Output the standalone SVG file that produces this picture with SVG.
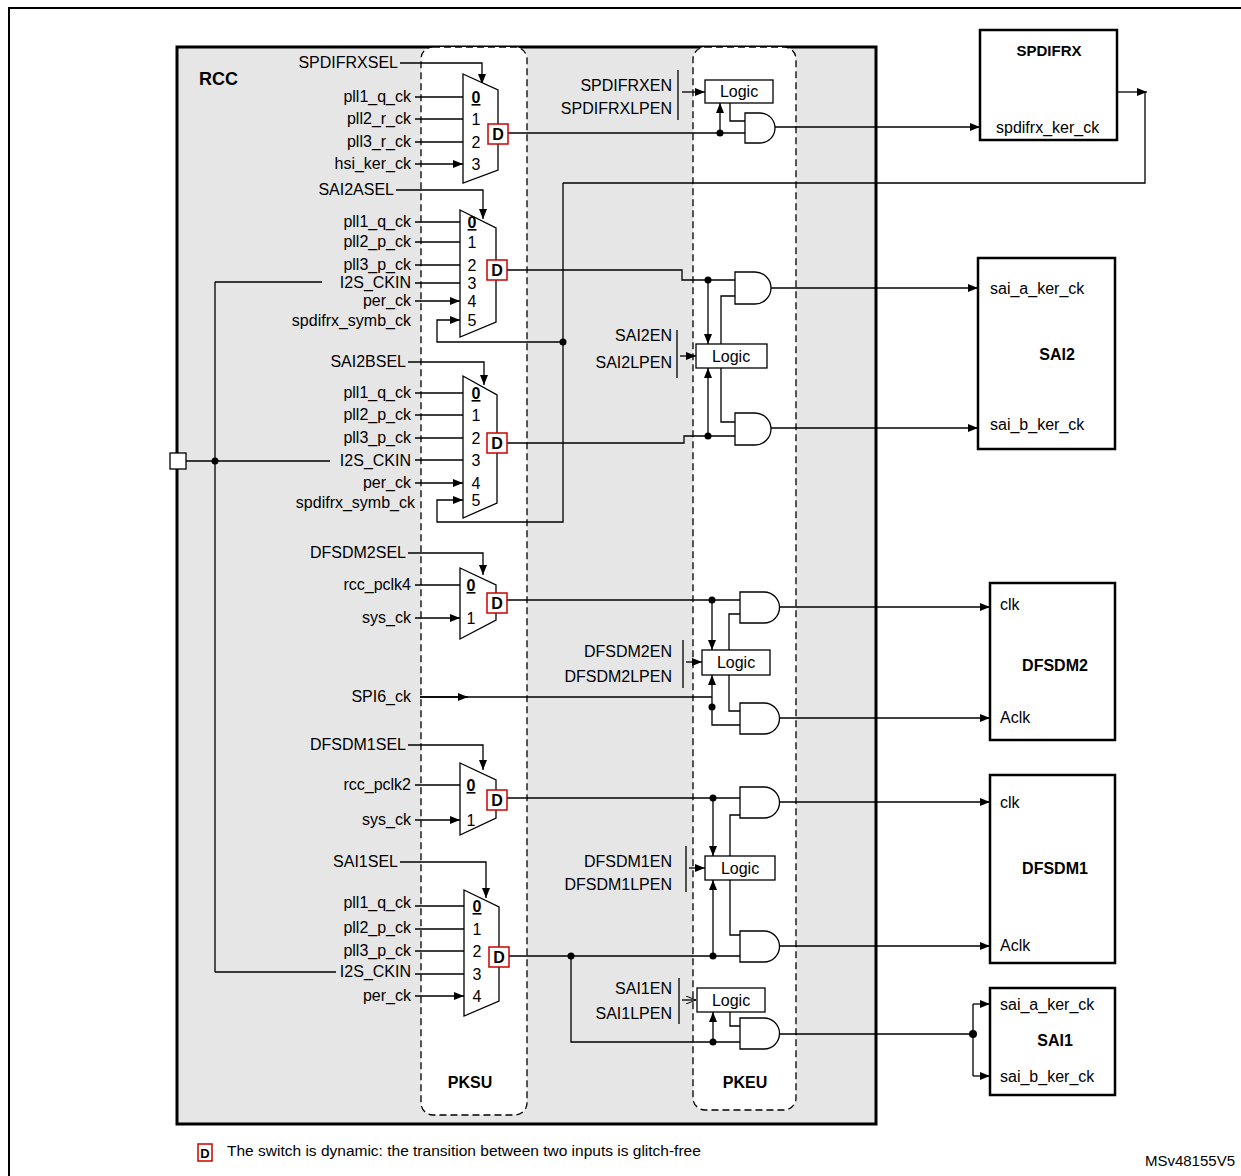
<svg xmlns="http://www.w3.org/2000/svg" width="1241" height="1176" viewBox="0 0 1241 1176">
<style>
text{font-family:"Liberation Sans",Arial,sans-serif;font-size:16px;fill:#000}
.r{text-anchor:end}
.m{text-anchor:middle}
.b{font-weight:bold}
.w{stroke:#000;stroke-width:1.3;fill:none}
.mux{fill:#fff;stroke:#000;stroke-width:1.3}
.gate{fill:#fff;stroke:#000;stroke-width:1.3}
.dbox{fill:#fff;stroke:#c00;stroke-width:1.5}
.box{fill:#fff;stroke:#000;stroke-width:2.5}
.dash{fill:#fff;stroke:#000;stroke-width:1.3;stroke-dasharray:7,4}
.ar{marker-end:url(#a)}
</style>
<defs>
<marker id="a" viewBox="0 0 10 8" refX="10" refY="4" markerWidth="10" markerHeight="8" markerUnits="userSpaceOnUse" orient="auto"><path d="M0,0L10,4L0,8Z" fill="#000"/></marker>
<marker id="o" viewBox="0 0 10 8" refX="10" refY="4" markerWidth="10" markerHeight="8" markerUnits="userSpaceOnUse" orient="auto"><path d="M0,0L10,4L0,8" fill="none" stroke="#000"/></marker>
</defs>
<rect width="1241" height="1176" fill="#fff"/>
<path d="M9,1176V8H1241" fill="none" stroke="#000" stroke-width="2"/>
<g id="rcc"><rect x="177" y="47" width="699" height="1077" fill="#e6e6e6" stroke="#000" stroke-width="3"/><text x="199" y="85" class="b" style="font-size:18px">RCC</text></g>
<g id="pksu"><rect x="421" y="47" width="106" height="1068" rx="12" class="dash"/><text x="470" y="1088" class="m b">PKSU</text></g>
<g id="pkeu"><rect x="693" y="47" width="103" height="1063" rx="12" class="dash"/><text x="745" y="1088" class="m b">PKEU</text></g>

<g id="connectors">
<path class="w" d="M186,461H330M215,282V972M215,282H322M215,972H336"/>
<circle cx="215" cy="461" r="3.5"/>
<path class="w ar" d="M400,63H482V84"/>
<path class="w ar" d="M415,97H463M415,119H463M415,142H463M415,164H463"/>
<path class="w ar" d="M396,190H483V219"/>
<path class="w ar" d="M415,222H460M415,242H460M415,265H460M415,283H460M415,301H460"/>
<path class="w ar" d="M563,342H437V320H460"/>
<path class="w ar" d="M408,362H484V385"/>
<path class="w ar" d="M415,393H463M415,415H463M415,438H463M415,460H463M415,483H463"/>
<path class="w ar" d="M563,183V522H437V500H463"/>
<circle cx="563" cy="342" r="3.5"/>
<path class="w" d="M1145,92V183H563"/>
<path class="w ar" d="M1117,92H1147"/>
<path class="w" d="M508,133H745"/>
<circle cx="720" cy="133" r="3.5"/>
<path class="w ar" d="M720,133V103"/>
<path class="w" d="M678,70V120M730,103V121H745"/>
<path class="w ar" d="M682,92H705"/>
<path class="w ar" d="M775,127H980"/>
<path class="w" d="M506,270H682V280H735"/>
<path class="w" d="M507,443H684V436H735"/>
<circle cx="708" cy="280" r="3.5"/><circle cx="708" cy="436" r="3.5"/>
<path class="w ar" d="M708,280V344"/><path class="w ar" d="M708,436V368"/>
<path class="w" d="M721,344V296H735M721,368V422H735M677,330V378"/>
<path class="w ar" d="M680,356H696"/>
<path class="w ar" d="M770,288H978"/>
<path class="w ar" d="M770,428H978"/>
<path class="w ar" d="M408,553H483V575"/>
<path class="w ar" d="M415,585H460M415,618H460"/>
<path class="w" d="M506,600H740"/>
<circle cx="712" cy="600" r="3.5"/>
<path class="w ar" d="M712,600V650"/>
<path class="w" d="M420,697H712M712,697V725H740M729,650V614H740M729,675V711H740M683,640V688"/>
<path class="w ar" d="M420,697H468"/>
<path class="w ar" d="M712,697V675"/>
<circle cx="712" cy="707" r="3.5"/>
<path class="w ar" d="M686,662H702"/>
<path class="w ar" d="M780,607H990"/>
<path class="w ar" d="M780,718H990"/>
<path class="w ar" d="M408,745H483V770"/>
<path class="w ar" d="M415,785H460M415,820H460"/>
<path class="w" d="M506,798H740"/>
<circle cx="713" cy="798" r="3.5"/>
<path class="w ar" d="M713,798V856"/>
<path class="w" d="M730,856V815H740M730,880V935H740M686,846V892"/>
<path class="w ar" d="M689,868H705"/>
<path class="w ar" d="M780,802H990"/>
<path class="w ar" d="M780,946H990"/>
<path class="w ar" d="M400,862H486V898"/>
<path class="w ar" d="M415,906H464M415,929H464M415,951H464M415,974H464M415,996H464"/>
<path class="w" d="M508,956H740M571,956V1042H740"/>
<circle cx="571" cy="956" r="3.5"/><circle cx="713" cy="956" r="3.5"/><circle cx="713" cy="1042" r="3.5"/>
<path class="w ar" d="M713,956V880"/>
<path class="w ar" d="M713,1042V1012"/>
<path class="w" d="M730,1012V1026H740M679,978V1024"/>
<path class="w" d="M682,1000H696" marker-end="url(#o)"/>
<path class="w" d="M780,1034H973V1004M973,1034V1076"/>
<path class="w ar" d="M973,1004H990"/><path class="w ar" d="M973,1076H990"/>
<circle cx="973" cy="1034" r="4"/>
</g>

<g id="mux_spdifrx"><polygon class="mux" points="463,74 498,90 498,170 463,183"/><rect class="dbox" x="488" y="124" width="20" height="20"/><text x="498" y="140" class="m b">D</text>
<text x="476" y="103" class="m b" text-decoration="underline">0</text><text x="476" y="125" class="m">1</text><text x="476" y="148" class="m">2</text><text x="476" y="170" class="m">3</text>
<text x="398" y="68" class="r">SPDIFRXSEL</text><text x="411" y="102" class="r">pll1_q_ck</text><text x="411" y="124" class="r">pll2_r_ck</text><text x="411" y="147" class="r">pll3_r_ck</text><text x="411" y="169" class="r">hsi_ker_ck</text></g>

<g id="mux_sai2a"><polygon class="mux" points="460,210 496,228 496,322 460,337"/><rect class="dbox" x="487" y="260" width="20" height="20"/><text x="497" y="276" class="m b">D</text>
<text x="472" y="228" class="m b" text-decoration="underline">0</text><text x="472" y="248" class="m">1</text><text x="472" y="271" class="m">2</text><text x="472" y="289" class="m">3</text><text x="472" y="307" class="m">4</text><text x="472" y="326" class="m">5</text>
<text x="394" y="195" class="r">SAI2ASEL</text><text x="411" y="227" class="r">pll1_q_ck</text><text x="411" y="247" class="r">pll2_p_ck</text><text x="411" y="270" class="r">pll3_p_ck</text><text x="411" y="288" class="r">I2S_CKIN</text><text x="411" y="306" class="r">per_ck</text><text x="411" y="326" class="r">spdifrx_symb_ck</text></g>

<g id="mux_sai2b"><polygon class="mux" points="463,376 497,395 497,503 463,518"/><rect class="dbox" x="487" y="433" width="20" height="20"/><text x="497" y="449" class="m b">D</text>
<text x="476" y="399" class="m b" text-decoration="underline">0</text><text x="476" y="421" class="m">1</text><text x="476" y="444" class="m">2</text><text x="476" y="466" class="m">3</text><text x="476" y="489" class="m">4</text><text x="476" y="506" class="m">5</text>
<text x="406" y="367" class="r">SAI2BSEL</text><text x="411" y="398" class="r">pll1_q_ck</text><text x="411" y="420" class="r">pll2_p_ck</text><text x="411" y="443" class="r">pll3_p_ck</text><text x="411" y="466" class="r">I2S_CKIN</text><text x="411" y="488" class="r">per_ck</text><text x="415" y="508" class="r">spdifrx_symb_ck</text></g>

<g id="mux_dfsdm2"><polygon class="mux" points="460,568 496,585 496,620 460,639"/><rect class="dbox" x="487" y="593" width="20" height="20"/><text x="497" y="609" class="m b">D</text>
<text x="471" y="591" class="m b" text-decoration="underline">0</text><text x="471" y="624" class="m">1</text>
<text x="406" y="558" class="r">DFSDM2SEL</text><text x="411" y="590" class="r">rcc_pclk4</text><text x="411" y="623" class="r">sys_ck</text><text x="411" y="702" class="r">SPI6_ck</text></g>

<g id="mux_dfsdm1"><polygon class="mux" points="460,763 496,780 496,818 460,835"/><rect class="dbox" x="487" y="790" width="20" height="20"/><text x="497" y="806" class="m b">D</text>
<text x="471" y="791" class="m b" text-decoration="underline">0</text><text x="471" y="826" class="m">1</text>
<text x="406" y="750" class="r">DFSDM1SEL</text><text x="411" y="790" class="r">rcc_pclk2</text><text x="411" y="825" class="r">sys_ck</text></g>

<g id="mux_sai1"><polygon class="mux" points="464,890 499,907 499,1001 464,1016"/><rect class="dbox" x="489" y="947" width="20" height="20"/><text x="499" y="963" class="m b">D</text>
<text x="477" y="912" class="m b" text-decoration="underline">0</text><text x="477" y="935" class="m">1</text><text x="477" y="957" class="m">2</text><text x="477" y="980" class="m">3</text><text x="477" y="1002" class="m">4</text>
<text x="398" y="867" class="r">SAI1SEL</text><text x="411" y="908" class="r">pll1_q_ck</text><text x="411" y="933" class="r">pll2_p_ck</text><text x="411" y="956" class="r">pll3_p_ck</text><text x="411" y="977" class="r">I2S_CKIN</text><text x="411" y="1001" class="r">per_ck</text></g>

<g id="pkeu_spdifrx"><rect class="gate" x="705" y="80" width="68" height="23"/><text x="739" y="97" class="m">Logic</text><path class="gate" d="M745,113H760A15,15 0 0 1 760,143H745Z"/>
<text x="672" y="91" class="r">SPDIFRXEN</text><text x="672" y="114" class="r">SPDIFRXLPEN</text></g>

<g id="pkeu_sai2"><rect class="gate" x="696" y="344" width="71" height="24"/><text x="731" y="362" class="m">Logic</text>
<path class="gate" d="M735,272H755A16,16 0 0 1 755,304H735Z"/><path class="gate" d="M735,413H755A16,16 0 0 1 755,445H735Z"/>
<text x="672" y="341" class="r">SAI2EN</text><text x="672" y="368" class="r">SAI2LPEN</text></g>

<g id="pkeu_dfsdm2"><rect class="gate" x="702" y="650" width="68" height="25"/><text x="736" y="668" class="m">Logic</text>
<path class="gate" d="M740,592H764A15.5,15.5 0 0 1 764,623H740Z"/><path class="gate" d="M740,703H764A15.5,15.5 0 0 1 764,734H740Z"/>
<text x="672" y="657" class="r">DFSDM2EN</text><text x="672" y="682" class="r">DFSDM2LPEN</text></g>

<g id="pkeu_dfsdm1"><rect class="gate" x="705" y="856" width="70" height="24"/><text x="740" y="874" class="m">Logic</text>
<path class="gate" d="M740,787H764A15.5,15.5 0 0 1 764,818H740Z"/><path class="gate" d="M740,931H764A15.5,15.5 0 0 1 764,962H740Z"/>
<text x="672" y="867" class="r">DFSDM1EN</text><text x="672" y="890" class="r">DFSDM1LPEN</text></g>

<g id="pkeu_sai1"><rect class="gate" x="697" y="988" width="68" height="24"/><text x="731" y="1006" class="m">Logic</text>
<path class="gate" d="M740,1018H764A15.5,15.5 0 0 1 764,1049H740Z"/>
<text x="672" y="994" class="r">SAI1EN</text><text x="672" y="1019" class="r">SAI1LPEN</text></g>

<g id="pin"><rect x="170" y="453" width="16" height="16" fill="#fff" stroke="#000" stroke-width="1.3"/></g>

<g id="spdifrx"><rect class="box" x="980" y="30" width="137" height="110"/><text x="1049" y="56" class="m b" style="font-size:15px">SPDIFRX</text><text x="996" y="133">spdifrx_ker_ck</text></g>
<g id="sai2"><rect class="box" x="978" y="258" width="137" height="191"/><text x="1057" y="360" class="m b">SAI2</text><text x="990" y="294">sai_a_ker_ck</text><text x="990" y="430">sai_b_ker_ck</text></g>
<g id="dfsdm2"><rect class="box" x="990" y="583" width="125" height="157"/><text x="1055" y="671" class="m b">DFSDM2</text><text x="1000" y="610">clk</text><text x="1000" y="723">Aclk</text></g>
<g id="dfsdm1"><rect class="box" x="990" y="775" width="125" height="188"/><text x="1055" y="874" class="m b">DFSDM1</text><text x="1000" y="808">clk</text><text x="1000" y="951">Aclk</text></g>
<g id="sai1"><rect class="box" x="990" y="988" width="125" height="107"/><text x="1055" y="1046" class="m b">SAI1</text><text x="1000" y="1010">sai_a_ker_ck</text><text x="1000" y="1082">sai_b_ker_ck</text></g>

<g id="legend"><rect class="dbox" x="198" y="1144" width="14" height="17"/><text x="205" y="1158" class="m b" style="font-size:13px">D</text>
<text x="227" y="1156" style="font-size:15.5px">The switch is dynamic: the transition between two inputs is glitch-free</text>
<text x="1235" y="1166" class="r" style="font-size:15px">MSv48155V5</text></g>
</svg>
